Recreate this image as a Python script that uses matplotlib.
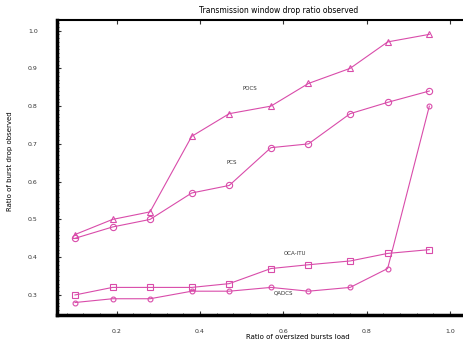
import matplotlib
matplotlib.use("Agg")
import matplotlib.pyplot as plt
from matplotlib.ticker import MultipleLocator

# Ratio of oversized bursts load
load = [0.10, 0.19, 0.28, 0.38, 0.47, 0.57, 0.66, 0.76, 0.85, 0.95]

pocs = [0.46, 0.50, 0.52, 0.72, 0.78, 0.80, 0.86, 0.90, 0.97, 0.99]
pcs = [0.45, 0.48, 0.50, 0.57, 0.59, 0.69, 0.70, 0.78, 0.81, 0.84]
oca_itu = [0.30, 0.32, 0.32, 0.32, 0.33, 0.37, 0.38, 0.39, 0.41, 0.42]
qadcs = [0.28, 0.29, 0.29, 0.31, 0.31, 0.32, 0.31, 0.32, 0.37, 0.80]

x_ticks = [0.2, 0.4, 0.6, 0.8, 1.0]
y_ticks = [0.3, 0.4, 0.5, 0.6, 0.7, 0.8, 0.9, 1.0]

color = "#d94caa"

fig = plt.figure(figsize=(4.64, 3.45), dpi=100)
ax = fig.add_axes([0.123, 0.087, 0.955, 0.855])

ax.plot(load, pocs, color=color, lw=0.8, marker="^", ms=4.5, mfc="none", mew=0.8)
ax.plot(load, pcs, color=color, lw=0.8, marker="o", ms=4.5, mfc="none", mew=0.8)
ax.plot(load, oca_itu, color=color, lw=0.8, marker="s", ms=4.5, mfc="none", mew=0.8)
ax.plot(load, qadcs, color=color, lw=0.8, marker="o", ms=3.5, mfc="none", mew=0.8)

ax.text(0.52, 0.846, "POCS", fontsize=4, ha="center", va="center", color="#333333")
ax.text(0.477, 0.652, "PCS", fontsize=4, ha="center", va="center", color="#333333")
ax.text(0.628, 0.409, "OCA-ITU", fontsize=4, ha="center", va="center", color="#333333")
ax.text(0.60, 0.305, "QADCS", fontsize=4, ha="center", va="center", color="#333333")

ax.set_xlim(0.057, 1.12)
ax.set_ylim(0.247, 1.028)
ax.set_xticks(x_ticks)
ax.set_yticks(y_ticks)
ax.set_xticklabels(["%.1f" % v for v in x_ticks])
ax.set_yticklabels(["%.1f" % v for v in y_ticks])
ax.xaxis.set_minor_locator(MultipleLocator(0.04))
ax.yaxis.set_minor_locator(MultipleLocator(0.01))
ax.tick_params(which="both", direction="in", labelsize=4.5, colors="#333333")
ax.tick_params(axis="x", which="major", length=3, pad=10, top=True)
ax.tick_params(axis="x", which="minor", top=False)
ax.tick_params(axis="y", which="major", length=3, pad=14)
ax.tick_params(which="minor", length=1.5)

ax.spines["left"].set_linewidth(2.5)
ax.spines["bottom"].set_linewidth(2.5)
ax.spines["top"].set_linewidth(1.5)
ax.spines["right"].set_visible(False)

ax.set_title("Transmission window drop ratio observed", fontsize=5.5, pad=5, x=0.5)
ax.set_xlabel("Ratio of oversized bursts load", fontsize=5)
ax.xaxis.set_label_coords(0.544, -0.065)
ax.set_ylabel("Ratio of burst drop observed", fontsize=5)
ax.yaxis.set_label_coords(-0.1, 0.52)

fig.savefig("out.png", dpi=100)
